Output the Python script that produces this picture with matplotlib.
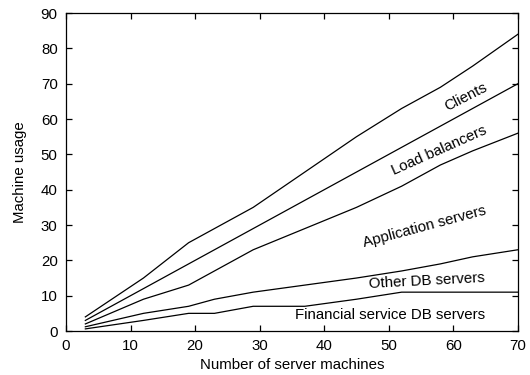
import numpy as np
import matplotlib
matplotlib.use('Agg')
import matplotlib.pyplot as plt

plt.rcParams['font.family'] = ['Liberation Sans', 'DejaVu Sans']

# numero di macchine server (asse x)
servers = [3, 12, 19, 23, 29, 37, 45, 52, 58, 63, 70]

clients = [4, 15, 25, 29, 35, 45, 55, 63, 69, 75, 84]
load_balancers = [3, 12, 19, 23, 29, 37, 45, 52, 58, 63, 70]
app_servers = [2, 9, 13, 17, 23, 29, 35, 41, 47, 51, 56]
other_db = [1.2, 5, 7, 9, 11, 13, 15, 17, 19, 21, 23]
financial_db = [0.6, 3, 5, 5, 7, 7, 9, 11, 11, 11, 11]

labels = ['Clients', 'Load balancers', 'Application servers',
          'Other DB servers', 'Financial service DB servers']
# posizione e rotazione delle etichette (coordinate dati)
label_pos = [(61.9, 66.2, 27), (57.8, 51.2, 24), (55.6, 29.5, 15),
             (55.9, 14.1, 3), (50.2, 4.6, 0)]

fig = plt.figure(figsize=(5.3, 3.75), dpi=100)
ax = fig.add_axes([0.1245, 0.1173, 0.8525, 0.8477])

for serie in [clients, load_balancers, app_servers, other_db, financial_db]:
    ax.plot(servers, serie, color='black', linewidth=0.9)

for txt, (x, y, rot) in zip(labels, label_pos):
    ax.text(x, y, txt, rotation=rot, ha='center', va='center',
            fontsize=10.8, rotation_mode='anchor')

ax.set_xlim(0, 70)
ax.set_ylim(0, 90)
ax.set_xticks(np.arange(0, 71, 10))
ax.set_yticks(np.arange(0, 91, 10))
ax.tick_params(direction='in', top=True, right=True, length=4,
               width=0.9, labelsize=10.8, pad=6)
for s in ax.spines.values():
    s.set_linewidth(0.9)
ax.set_xlabel('Number of server machines', fontsize=10.8, labelpad=3)
ax.set_ylabel('Machine usage', fontsize=10.8, labelpad=10)

fig.savefig('out.png', dpi=100)
